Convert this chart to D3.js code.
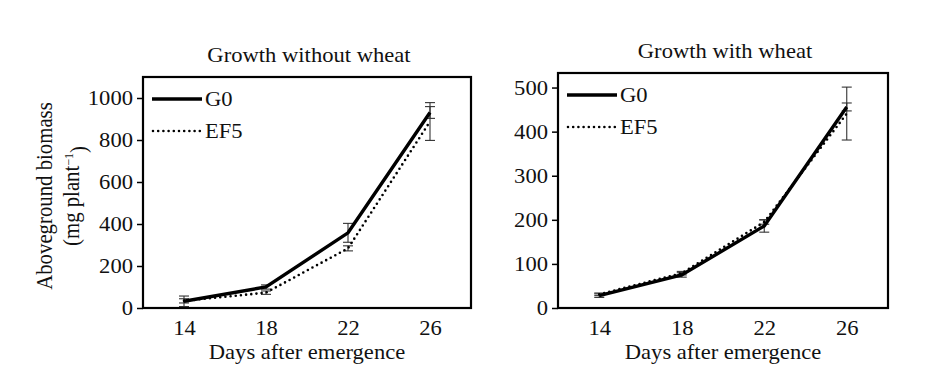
<!DOCTYPE html>
<html>
<head>
<meta charset="utf-8">
<script src="https://cdn.jsdelivr.net/npm/d3@7"></script>
<style>
  html, body { margin: 0; padding: 0; background: #fff; }
  svg, svg text { font-family: "Liberation Serif", "Times New Roman", serif; }
</style>
</head>
<body>
<svg id="chart" width="948" height="380" font-family="Liberation Serif"></svg>
<script>
// ---- data ----
const days = [14, 18, 22, 26];
const seriesNames = ["G0", "EF5"];

// Growth without wheat
const noWheatG0 = [32, 100, 358, 931];
const noWheatG0Err = [25, 10, 45, 28];
const noWheatEF5 = [34, 73, 284, 888];
const noWheatEF5Err = [10, 8, 12, 90];

// Growth with wheat
const wheatG0 = [28, 75, 186, 456];
const wheatG0Err = [4, 5, 14, 9];
const wheatEF5 = [31, 79, 195, 441];
const wheatEF5Err = [3, 4, 5, 60];

const noWheatTicks = [0, 200, 400, 600, 800, 1000];
const wheatTicks = [0, 100, 200, 300, 400, 500];
const noWheatMax = 1100;
const wheatMax = 533;

const titles = ["Growth without wheat", "Growth with wheat"];
const xTitle = "Days after emergence";
const yTitle = "Aboveground biomass";

// ---- layout ----
const svg = d3.select("#chart");
const FONT = '"Liberation Serif", "Times New Roman", serif';
const FS = 20;
const SX = 1.13; // horizontal stretch of the reference lettering

const panels = [
  { left: 143, right: 471, top: 77, bottom: 308, title: titles[0],
    g0: noWheatG0, g0e: noWheatG0Err, ef: noWheatEF5, efe: noWheatEF5Err,
    ticks: noWheatTicks, max: noWheatMax, yLabel: true },
  { left: 558, right: 888, top: 73, bottom: 308, title: titles[1],
    g0: wheatG0, g0e: wheatG0Err, ef: wheatEF5, efe: wheatEF5Err,
    ticks: wheatTicks, max: wheatMax, yLabel: false }
];

function hText(parent, x, y, str, anchor, dy) {
  return parent.append("text")
    .attr("transform", `translate(${x},${y}) scale(${SX},1)`)
    .attr("text-anchor", anchor || "start")
    .attr("dy", dy || 0)
    .style("font-family", FONT).style("font-size", FS + "px")
    .attr("fill", "#111")
    .text(str);
}

panels.forEach(p => {
  const g = svg.append("g");
  const x = d3.scalePoint().domain(days).range([p.left, p.right]).padding(0.5);
  const y = d3.scaleLinear().domain([0, p.max]).range([p.bottom, p.top]);

  // y axis ticks
  const yAxis = d3.axisLeft(y).tickValues(p.ticks).tickFormat(d3.format("d")).tickSize(6).tickPadding(4);
  const ya = g.append("g").attr("transform", `translate(${p.left},0)`).call(yAxis)
    .attr("font-family", null).attr("font-size", null);
  ya.select(".domain").remove();
  ya.selectAll(".tick line").attr("stroke", "#000").attr("stroke-width", 1.5);
  ya.selectAll(".tick text").remove();
  ya.selectAll(".tick").each(function(d) {
    hText(d3.select(this), -10, 0, String(d), "end", "0.34em");
  });

  // x axis labels (no tick marks)
  const xAxis = d3.axisBottom(x).tickSize(0);
  const xa = g.append("g").attr("transform", `translate(0,${p.bottom})`).call(xAxis)
    .attr("font-family", null).attr("font-size", null);
  xa.select(".domain").remove();
  xa.selectAll(".tick text").remove();
  xa.selectAll(".tick").each(function(d) {
    hText(d3.select(this), 0, 27, String(d), "middle");
  });

  // frame
  g.append("rect")
    .attr("x", p.left).attr("y", p.top)
    .attr("width", p.right - p.left).attr("height", p.bottom - p.top)
    .attr("fill", "none").attr("stroke", "#000").attr("stroke-width", 2.2);

  // titles
  hText(g, (p.left + p.right) / 2 + 2, p.top - 15, p.title, "middle");
  hText(g, (p.left + p.right) / 2, 359, xTitle, "middle");

  const line = d3.line().x((d, i) => x(days[i])).y(d => y(d));

  // error bars
  const drawErr = (vals, errs) => {
    vals.forEach((v, i) => {
      const cx = x(days[i]);
      const eg = g.append("g").attr("stroke", "#333").attr("stroke-width", 1.1);
      eg.append("line").attr("x1", cx).attr("x2", cx).attr("y1", y(v - errs[i])).attr("y2", y(v + errs[i]));
      [v - errs[i], v + errs[i]].forEach(e => {
        eg.append("line").attr("x1", cx - 5).attr("x2", cx + 5).attr("y1", y(e)).attr("y2", y(e));
      });
    });
  };
  drawErr(p.g0, p.g0e);
  drawErr(p.ef, p.efe);

  // lines
  g.append("path").datum(p.ef).attr("d", line)
    .attr("fill", "none").attr("stroke", "#000").attr("stroke-width", 2.6)
    .attr("stroke-linecap", "round").attr("stroke-dasharray", "0,5.2");
  g.append("path").datum(p.g0).attr("d", line)
    .attr("fill", "none").attr("stroke", "#000").attr("stroke-width", 3.4);

  // legend
  const lx0 = p.left + 9, lx1 = p.left + 59;
  const ly = [p.top + 22, p.top + 54];
  g.append("line").attr("x1", lx0).attr("x2", lx1).attr("y1", ly[0]).attr("y2", ly[0])
    .attr("stroke", "#000").attr("stroke-width", 3.4);
  g.append("line").attr("x1", lx0 + 1).attr("x2", lx1).attr("y1", ly[1]).attr("y2", ly[1])
    .attr("stroke", "#000").attr("stroke-width", 2.6)
    .attr("stroke-linecap", "round").attr("stroke-dasharray", "0,5.2");
  seriesNames.forEach((n, i) => {
    hText(g, lx1 + 3, ly[i], n, "start", "0.35em");
  });

  // y label
  if (p.yLabel) {
    const cy = 196;
    const YFS = 20.8;
    g.append("text").attr("transform", `translate(52,${cy}) rotate(-90) scale(1,1.08)`)
      .attr("text-anchor", "middle").style("font-family", FONT).style("font-size", YFS + "px")
      .attr("fill", "#111").text(yTitle);
    const t = g.append("text").attr("transform", `translate(79,${cy}) rotate(-90) scale(1,1.08)`)
      .attr("text-anchor", "middle").style("font-family", FONT).style("font-size", YFS + "px")
      .attr("fill", "#111");
    t.append("tspan").text("(mg plant");
    t.append("tspan").attr("dy", "-0.5em").style("font-size", "12px").text("\u22121");
    t.append("tspan").attr("dy", "0.6em").text(")");
  }
});
</script>
</body>
</html>
